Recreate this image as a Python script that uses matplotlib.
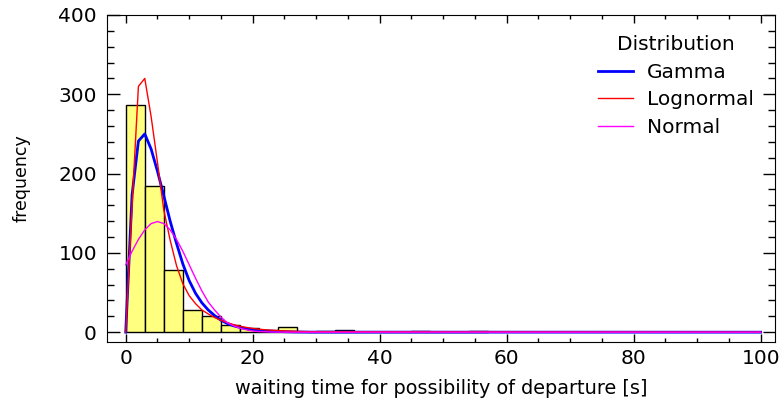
import numpy as np
import matplotlib
matplotlib.use("Agg")
import matplotlib.pyplot as plt
from matplotlib.ticker import MultipleLocator

plt.rcParams['font.family'] = ['DejaVu Sans']

# histogram of waiting times, 3 s bins starting at 0
bin_width = 3
counts = [286, 184, 78, 28, 21, 9, 5, 3, 6, 0, 1, 3, 0, 0, 0, 1, 0, 0, 1]

curve_x = list(range(0, 31)) + [100]
gamma = [0, 173, 241, 250, 231, 203, 172, 140, 112, 86,
         65, 49, 37, 28, 21, 15, 11, 8, 6, 4.5,
         3.3, 2.4, 1.7, 1.2, 0.9, 0.6, 0.4, 0.3, 0.2, 0.1,
         0.1, 0]
lognormal = [0, 160, 310, 320, 272, 214, 154, 116, 84, 61,
             46, 36, 28, 23, 18.5, 15, 12, 9.5, 7.5, 6,
             4.8, 3.8, 3, 2.5, 2, 1.6, 1.3, 1, 0.8, 0.7,
             0.6, 0]
normal = [85, 102, 117, 129, 137, 139.5, 137, 129, 117, 102,
          85, 68, 52, 38, 28, 19, 12, 8, 5, 3,
          1.5, 0.8, 0.5, 0.2, 0.1, 0, 0, 0, 0, 0,
          0, 0]

fig = plt.figure(figsize=(7.82, 4.12), dpi=100)
ax = fig.add_axes([0.1364, 0.1706, 0.855, 0.793])

left = np.arange(len(counts)) * bin_width
ax.bar(left, counts, width=bin_width, align='edge', color='#ffff80',
       edgecolor='black', linewidth=1)

ax.plot(curve_x, gamma, color='#0000ff', lw=2, label='Gamma')
ax.plot(curve_x, lognormal, color='#ff0000', lw=1, label='Lognormal')
ax.plot(curve_x, normal, color='#ff00ff', lw=1, label='Normal')

ax.set_xlim(-3, 102.3)
ax.set_ylim(-12, 400)
ax.xaxis.set_major_locator(MultipleLocator(20))
ax.xaxis.set_minor_locator(MultipleLocator(5))
ax.yaxis.set_major_locator(MultipleLocator(100))
ax.yaxis.set_minor_locator(MultipleLocator(20))
ax.tick_params(which='both', direction='in', top=True, right=True,
               labelsize=14.5, width=1)
ax.tick_params(axis='x', which='major', length=6, pad=5)
ax.tick_params(axis='x', which='minor', length=3.2)
ax.tick_params(axis='y', which='major', length=9, pad=7)
ax.tick_params(axis='y', which='minor', length=4.8)

ax.set_xlabel('waiting time for possibility of departure [s]', fontsize=13.9, labelpad=8)
ax.set_ylabel('frequency', fontsize=12.5, labelpad=20)

ax.legend(title='Distribution', loc='upper right', bbox_to_anchor=(0.968, 0.939),
          frameon=False, fontsize=14.5, title_fontsize=14.5, handlelength=1.75,
          handletextpad=0.7, labelspacing=0.43, borderpad=0, borderaxespad=0)

plt.savefig('out.png', dpi=100)
